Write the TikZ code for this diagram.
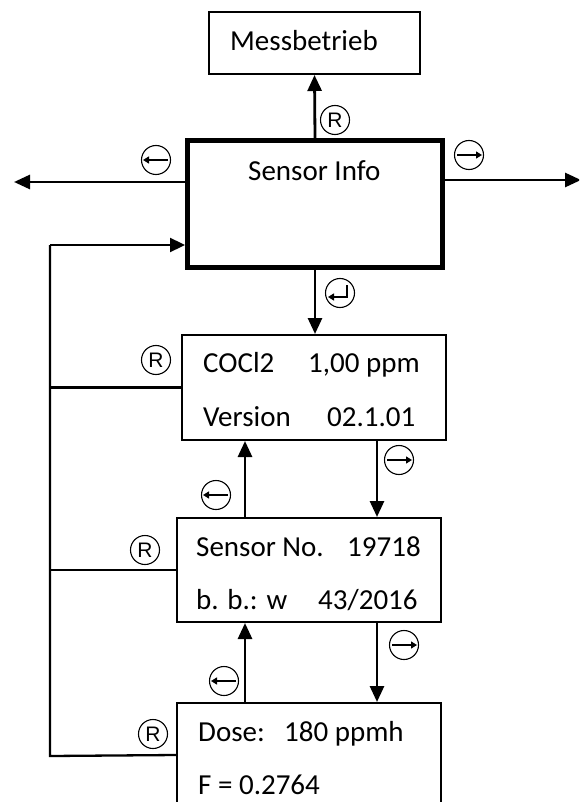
\documentclass[tikz,border=0pt]{standalone}
\usepackage{fontspec}
\setmainfont{Carlito}
\newfontfamily\keyfont{Liberation Sans}
\usetikzlibrary{arrows.meta}
\begin{document}
\begin{tikzpicture}[x=1pt,y=-1pt,
  box/.style={draw, line width=2pt, inner sep=0pt},
  txt/.style={font=\fontsize{29}{34}\selectfont, inner sep=0pt, anchor=base west},
  key/.style={circle, draw, line width=1.1pt, minimum size=29pt, inner sep=0pt, font=\keyfont\fontsize{21}{21}\selectfont},
  keyarrow/.style={line width=1.4pt, -{Triangle[length=6pt,width=7pt]}},
  lkey/.style={key, path picture={\draw[keyarrow] ([xshift=12pt]path picture bounding box.center) -- ([xshift=-13pt]path picture bounding box.center);}},
  rkey/.style={key, path picture={\draw[keyarrow] ([xshift=-12pt]path picture bounding box.center) -- ([xshift=13pt]path picture bounding box.center);}},
  ekey/.style={key, path picture={\draw[keyarrow] ([shift={(7,-8)}]path picture bounding box.center) -- ([shift={(7,4)}]path picture bounding box.center) -- ([shift={(-12,4)}]path picture bounding box.center);}},
  arr/.style={line width=2.8pt, -{Triangle[length=16pt,width=14pt]}},
  loopl/.style={line width=2.3pt},
]
\path[use as bounding box, clip] (0,0) rectangle (579,802);

% boxes
\node[box, minimum width=211pt, minimum height=62pt] (MB) at (314.5,43) {};
\node[box, line width=5pt, minimum width=255pt, minimum height=127pt] (SI) at (315,204) {};
\node[box, minimum width=264pt, minimum height=105pt] (CO) at (314,387.5) {};
\node[box, minimum width=264pt, minimum height=104pt] (SN) at (309,570) {};
\node[box, minimum width=264pt, minimum height=104pt] (DO) at (309,755) {};

% texts
\node[txt] (tMB) at (230,51) {Messbetrieb};
\node[txt] (tSI) at (248,181) {Sensor Info};
\node[txt] (tCO1) at (203,372) {COCl2};
\node[txt] (tCO2) at (308,372) {1,00 ppm};
\node[txt] (tCO3) at (203,426) {Version};
\node[txt] (tCO4) at (327,426) {02.1.01};
\node[txt] (tSN1) at (196,556) {Sensor No.};
\node[txt] (tSN2) at (347,556) {19718};
\node[txt] (tSN3) at (196,609) {b. b.: w};
\node[txt] (tSN4) at (318,609) {43/2016};
\node[txt] (tDO1) at (198,741) {Dose:};
\node[txt] (tDO2) at (284,741) {180 ppmh};
\node[txt] (tDO3) at (198,794) {F = 0.2764};

% coordinates
\coordinate (la) at (14,182);
\coordinate (ra) at (581,180);
\coordinate (lt) at (50,245);
\coordinate (lb) at (50,756);

% arrows
\draw[arr] (SI.north) -- (MB.south);
\draw[arr] (la -| SI.west) -- (la);
\draw[arr] (ra -| SI.east) -- (ra);
\draw[arr] (SI.south) -- (CO.north -| SI.south);
\draw[arr] (SN.north -| 245,0) -- (CO.south -| 245,0);
\draw[arr] (CO.south -| 377,0) -- (SN.north -| 377,0);
\draw[arr] (DO.north -| 245,0) -- (SN.south -| 245,0);
\draw[arr] (SN.south -| 377,0) -- (DO.north -| 377,0);

% loop
\draw[loopl] (DO.west) -- (lb) -- (lt);
\draw[loopl, -{Triangle[length=15pt,width=14pt]}] (lt) -- (lt -| SI.west);
\draw[loopl] (CO.west) -- (CO.west -| lt);
\draw[loopl] (SN.west) -- (SN.west -| lt);

% keys
\node[key] (k1) at (335,120) {R};
\node[lkey] (k2) at (156,160) {};
\node[rkey] (k3) at (469,155) {};
\node[ekey] (k4) at (340,293) {};
\node[key] (k5) at (156,360) {R};
\node[lkey] (k6) at (216,495) {};
\node[rkey] (k7) at (399,460) {};
\node[key] (k8) at (145,550) {R};
\node[lkey] (k9) at (224,681) {};
\node[rkey] (k10) at (404,645) {};
\node[key] (k11) at (153,734) {R};
\end{tikzpicture}
\end{document}
